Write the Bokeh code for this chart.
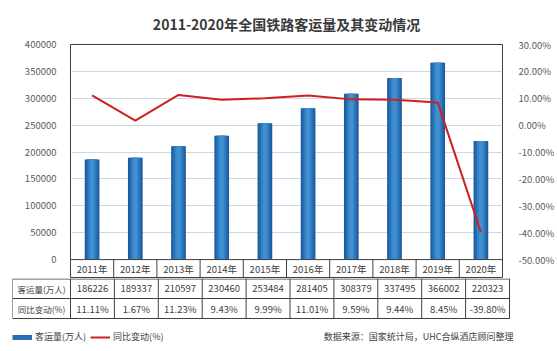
from bokeh.plotting import figure
from bokeh.models import (Range1d, LinearAxis, FixedTicker, PrintfTickFormatter,
                          NumeralTickFormatter, Legend, LegendItem, ColumnDataSource)
from bokeh.layouts import column, row
from bokeh.core.properties import value
from bokeh.embed import file_html
from bokeh.resources import INLINE

# ---------------- data ----------------
years = ["2011年", "2012年", "2013年", "2014年", "2015年", "2016年", "2017年", "2018年", "2019年", "2020年"]
volume = [186226, 189337, 210597, 230460, 253484, 281405, 308379, 337495, 366002, 220323]
change = [11.11, 1.67, 11.23, 9.43, 9.99, 11.01, 9.59, 9.44, 8.45, -39.80]
left_ticks = [0, 50000, 100000, 150000, 200000, 250000, 300000, 350000, 400000]
right_ticks = [-50, -40, -30, -20, -10, 0, 10, 20, 30]
row_labels = ["客运量(万人)", "同比变动(%)"]
title_text = "2011-2020年全国铁路客运量及其变动情况"
source_text = "数据来源：国家统计局，UHC合纵酒店顾问整理"

FONT = "Noto Sans CJK SC"
TXT = "#404040"
LINE = "#404040"

n = len(years)
xs = list(range(n))

# ---------------- main chart ----------------
W = 557
H1 = 278
top_b = 43
frame_h = H1 - top_b
px = 400000 / 216.0
y_start = -(frame_h - 216) * px
pct_px = 80 / 216.0
p_start = -50 - (frame_h - 216) * pct_px

p1 = figure(width=W, height=H1, output_backend="svg", toolbar_location=None,
            x_range=Range1d(-0.5, n - 0.5), y_range=Range1d(y_start, 400000),
            x_axis_location=None, min_border_left=70, min_border_right=48,
            min_border_top=top_b, min_border_bottom=0)
p1.title.text = title_text
p1.title.align = "center"
p1.title.text_font = FONT
p1.title.text_font_size = "14px"
p1.title.text_font_style = "bold"
p1.title.text_color = "#3a3a3a"
p1.title.offset = 0
p1.title.standoff = 22
p1.outline_line_color = LINE
p1.outline_line_width = 1
p1.background_fill_color = "white"
p1.border_fill_color = "white"

p1.xgrid.visible = False
p1.ygrid.ticker = FixedTicker(ticks=left_ticks[1:-1])
p1.ygrid.grid_line_color = "#c9d8ea"
p1.ygrid.grid_line_width = 1

ax = p1.yaxis[0]
ax.ticker = FixedTicker(ticks=left_ticks)
ax.formatter = NumeralTickFormatter(format="0")
ax.axis_line_color = None
ax.major_tick_line_color = None
ax.minor_tick_line_color = None
ax.major_label_standoff = 8
ax.major_label_text_font = FONT
ax.major_label_text_font_size = "9.5px"
ax.major_label_text_color = "#595959"

p1.extra_y_ranges = {"pct": Range1d(p_start, 30)}
rax = LinearAxis(y_range_name="pct", ticker=FixedTicker(ticks=right_ticks),
                 formatter=PrintfTickFormatter(format="%.2f%%"))
rax.axis_line_color = None
rax.major_tick_line_color = None
rax.minor_tick_line_color = None
rax.major_label_standoff = 10
rax.major_label_text_font = FONT
rax.major_label_text_font_size = "9.5px"
rax.major_label_text_color = "#595959"
p1.add_layout(rax, "right")

src = ColumnDataSource(dict(x=xs, v=volume, c=change, yr=years,
                            ylab=[y_start / 2.0] * n))
for w, col in [(0.34, "#1d5a99"), (0.27, "#276db2"), (0.18, "#3380c4"), (0.09, "#4190d2")]:
    p1.vbar(x="x", top="v", bottom=0, width=w, source=src, fill_color=col, line_color=None)

p1.line(x="x", y="c", source=src, y_range_name="pct", line_color="#d01f1f", line_width=2)

p1.segment(x0=[-0.5], y0=[0], x1=[n - 0.5], y1=[0], line_color=LINE, line_width=1)
sep = [i + 0.5 for i in range(n - 1)]
p1.segment(x0=sep, y0=[y_start] * len(sep), x1=sep, y1=[0] * len(sep), line_color=LINE, line_width=1)
p1.text(x="x", y="ylab", text="yr", source=src, text_align="center", text_baseline="middle",
        text_font=value(FONT), text_font_size="9.5px", text_color=TXT)

# ---------------- table rows + legend ----------------
H2 = 351 - H1
unit = 439 / n
lab_w = 58 / unit
x_left = -0.5 - lab_w
frame_w2 = W - 12 - 40
x_right = x_left + frame_w2 / unit

p2 = figure(width=W, height=H2, output_backend="svg", toolbar_location=None,
            x_range=Range1d(x_left, x_right), y_range=Range1d(H2, 0),
            x_axis_location=None, y_axis_location=None,
            min_border_left=12, min_border_right=40, min_border_top=0, min_border_bottom=0)
p2.outline_line_color = None
p2.grid.visible = False
p2.background_fill_color = "white"
p2.border_fill_color = "white"

rh = 20
p2.segment(x0=[x_left] * 3, y0=[0.5, rh, 2 * rh], x1=[n - 0.5] * 3, y1=[0.5, rh, 2 * rh],
           line_color=LINE, line_width=1)
vx = [x_left] + [i - 0.5 for i in range(n + 1)]
p2.segment(x0=vx, y0=[0] * len(vx), x1=vx, y1=[2 * rh] * len(vx), line_color=LINE, line_width=1)

vol_txt = [str(v) for v in volume]
chg_txt = ["%.2f%%" % c for c in change]
p2.text(x=xs, y=[rh / 2] * n, text=vol_txt, text_align="center", text_baseline="middle",
        text_font=value(FONT), text_font_size="9.5px", text_color=TXT)
p2.text(x=xs, y=[rh * 1.5] * n, text=chg_txt, text_align="center", text_baseline="middle",
        text_font=value(FONT), text_font_size="9.5px", text_color=TXT)
p2.text(x=[(x_left - 0.5) / 2] * 2, y=[rh / 2, rh * 1.5], text=row_labels, text_align="center",
        text_baseline="middle", text_font=value(FONT), text_font_size="8.5px", text_color=TXT)

p2.text(x=[x_right], y=[58], text=[source_text], text_align="right", text_baseline="middle",
        x_offset=-4, text_font=value(FONT), text_font_size="9px", text_color=TXT)

r_bar = p2.line(x=[x_left - 5, x_left - 4], y=[-50, -50], line_color="#2a6fb4", line_width=5)
r_line = p2.line(x=[x_left - 5, x_left - 4], y=[-50, -50], line_color="#d01f1f", line_width=2)
legend = Legend(items=[LegendItem(label=row_labels[0], renderers=[r_bar]),
                       LegendItem(label=row_labels[1], renderers=[r_line])],
                orientation="horizontal", location=(0, 8), padding=0, margin=0,
                spacing=4, label_standoff=3, glyph_width=20, glyph_height=12, label_height=12,
                label_text_font=FONT, label_text_font_size="9px", label_text_color=TXT,
                border_line_color=None, background_fill_alpha=0)
p2.add_layout(legend)

layout = column(row(p1), row(p2), spacing=0)
open("out.html", "w").write(file_html(layout, INLINE))
